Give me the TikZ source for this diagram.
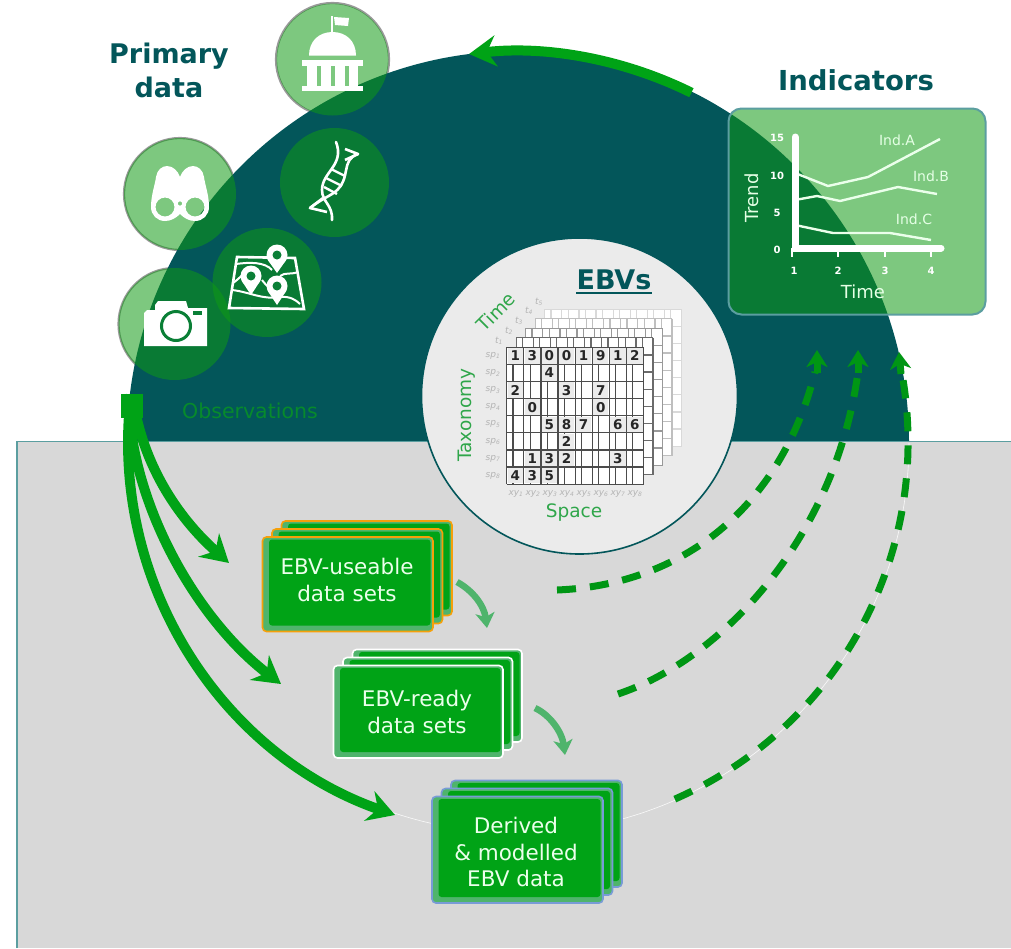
\documentclass[tikz,border=0pt]{standalone}
\usepackage{fontspec}
\setmainfont{DejaVu Sans}
\usetikzlibrary{arrows.meta}
\definecolor{tealdark}{HTML}{03565A}
\definecolor{greyback}{HTML}{D8D8D8}
\definecolor{maingreen}{HTML}{00A316}
\definecolor{lightgreen}{HTML}{4FB46C}
\definecolor{glass}{RGB}{15,154,20}
\definecolor{ringgreen}{HTML}{0A7F36}
\definecolor{axisgreen}{HTML}{2FA64A}
\definecolor{panelline}{HTML}{5B9EA0}
\definecolor{innerfill}{HTML}{EBEBEB}
\definecolor{labelgrey}{HTML}{B4B4B4}
\newcommand{\fs}[1]{\fontsize{#1}{#1}\selectfont}
\newcommand{\pinicon}[3]{%
  \fill[white] (#1,#2) circle (10.5pt);
  \fill[white] ({#1-9.5},{#2+4.5}) -- (#1,#3) -- ({#1+9.5},{#2+4.5}) -- cycle;
  \fill[ringgreen] (#1,#2) circle (4.5pt);}
\newcommand{\cardlayer}[5]{%
  \draw[draw=#5,fill=lightgreen,line width=1.6pt,rounded corners=4pt] (#1,#2) rectangle (#3,#4);
  \fill[maingreen,rounded corners=3pt] ({#1+6.5},{#2+2.5}) rectangle ({#3-2.5},{#4-6});}
\newcommand{\cardstack}[5]{%
  \cardlayer{#1+19}{#2-16}{#3+19}{#4-16}{#5}
  \cardlayer{#1+9.5}{#2-8}{#3+9.5}{#4-8}{#5}
  \cardlayer{#1}{#2}{#3}{#4}{#5}}
\newcommand{\gridlayer}[3]{%
  \begin{scope}[shift={(#1,#2)}]
    \fill[white] (506.7,347.3) rectangle (643.5,484.1);
    \draw[#3,line width=1.2pt] (506.7,347.3) grid[xstep=17.1,ystep=17.1] (643.5,484.1);
    \foreach \g in {0,...,8} {
      \draw[#3,line width=1.2pt] ({506.7+17.1*\g},347.3) -- ({506.7+17.1*\g},484.1);
      \draw[#3,line width=1.2pt] (506.7,{347.3+17.1*\g}) -- (643.5,{347.3+17.1*\g});}
  \end{scope}}
\tikzset{
  glassdisc/.style={fill=glass,fill opacity=.54},
  ringline/.style={draw=gray!80,line width=2.2pt},
  heading/.style={text=tealdark,font=\fs{27}\bfseries,inner sep=0pt},
  cardtext/.style={text=white!92!green,font=\fontsize{21.5}{26.5}\selectfont,align=center,inner sep=0pt},
  axislabel/.style={text=axisgreen,font=\fs{18.5},inner sep=0pt},
  chartnum/.style={text=white,font=\fs{10}\bfseries,inner sep=0pt},
  chartlabel/.style={text=white!90!green,font=\fs{14},inner sep=0pt},
  charttitle/.style={text=white!90!green,font=\fs{18},inner sep=0pt},
  chartline/.style={draw=white!92!green,line width=2.4pt},
  gridnum/.style={text=black!85,font=\fs{13.5}\bfseries,inner sep=0pt},
  smalllabel/.style={text=labelgrey,font=\fs{9}\itshape,inner sep=0pt},
  mainarrow/.style={draw=maingreen,line width=10pt,-{Stealth[length=27pt,width=31pt,inset=9pt]}},
  softarrow/.style={draw=lightgreen,line width=6.5pt,-{Stealth[length=15pt,width=19pt,inset=4pt]}},
  dashline/.style={draw=maingreen!92!black,line width=7pt,dash pattern=on 19pt off 14pt},
  dashhead/.style={draw=maingreen!92!black,line width=7pt,-{Stealth[length=17pt,width=21pt,inset=5pt]}},
}
\begin{document}
\begin{tikzpicture}[x=1pt,y=-1pt]
\useasboundingbox (0,0) rectangle (1011,948);
\fill[white] (0,0) rectangle (1011,948);
% rings seen only outside the dark half disc
\draw[ringline] (332.5,59.5) circle (56.5pt);
\draw[ringline] (180,194) circle (56pt);
\draw[ringline] (174.5,324) circle (56pt);
% dark half disc
\begin{scope}
  \clip (0,0) rectangle (1011,442);
  \fill[tealdark] (518,442) circle (391pt);
\end{scope}
% grey ground
\fill[greyback] (17,442) rectangle (1011,948);
\draw[panelline,line width=1.3pt] (17,948) -- (17,441.5) -- (1011,441.5);
\begin{scope}
  \clip (17,443) rectangle (1011,948);
  \draw[white!88!greyback,line width=.6pt] (518,442) circle (391pt);
\end{scope}
% source circles
\fill[glassdisc] (332.5,59.5) circle (56pt);
\fill[glassdisc] (334.5,182.5) circle (54.5pt);
\fill[glassdisc] (180,194) circle (56pt);
\fill[glassdisc] (267,282.5) circle (54.5pt);
\fill[glassdisc] (174.5,324) circle (56pt);
% institution icon
\draw[white,line width=2.4pt] (332,16) -- (332,33);
\fill[white] (334,17) -- (349,18) -- (348,26) -- (335,25) -- cycle;
\fill[white] (309,55.5) .. controls (309,41) and (319,32) .. (332.5,32) .. controls (346,32) and (356,41) .. (356,55.5) -- cycle;
\fill[white] (302,60) rectangle (363,66);
\foreach \a/\b in {307/317,321/331,335/344.5,349/358} \fill[white] (\a,66) rectangle (\b,86);
\fill[white] (302,86) rectangle (363,91);
% dna icon
\draw[white,line width=2.6pt,line cap=round] (336,142) .. controls (345,165) and (322,172) .. (322,190) .. controls (322,202) and (333,205) .. (332,220);
\draw[white,line width=2.6pt,line join=round] (345,149) -- (358,154) -- (345,160);
\draw[white,line width=2.6pt,line cap=round] (358,154) .. controls (340,160) and (352,178) .. (335,192) .. controls (328,197) and (320,200) .. (310,208);
\draw[white,line width=2.6pt,line join=round] (323,198) -- (310,208) -- (327,212);
\foreach \a/\b/\c/\d in {331/169/345/176,326/178/342/186,324/187/337/194} \draw[white,line width=2.4pt] (\a,\b) -- (\c,\d);
% binoculars icon
\fill[white,even odd rule] (151,207) .. controls (151,215) and (157,221) .. (165,221) .. controls (171,221) and (176,218) .. (180,214) .. controls (184,218) and (189,221) .. (195,221) .. controls (203,221) and (209,215) .. (209,207) .. controls (209,195) and (205,185) .. (204,177) .. controls (203,170) and (198,166) .. (193,166) .. controls (187,166) and (182,171) .. (180,177) .. controls (178,171) and (173,166) .. (167,166) .. controls (162,166) and (157,170) .. (156,177) .. controls (155,185) and (151,195) .. (151,207) -- cycle (165,207) circle (9.5pt) (195,207) circle (9.5pt) (180,203.5) circle (2.2pt);
% map icon
\draw[white,line width=2.6pt,line join=miter] (237,257) -- (295,258) -- (304,309) -- (229,308) -- cycle;
\draw[white,line width=2pt] (236,264) .. controls (250,262) and (265,262) .. (272,270);
\draw[white,line width=2pt] (233,283) .. controls (240,278) and (245,272) .. (250,268);
\draw[white,line width=2pt] (232,290) .. controls (250,292) and (262,300) .. (280,297) .. controls (290,296) and (296,300) .. (300,304);
\draw[white,line width=2pt] (298,272) .. controls (290,275) and (285,272) .. (280,276);
\draw[white,line width=2pt] (262,280) .. controls (268,288) and (272,290) .. (280,290);
\pinicon{277}{255}{273}
\pinicon{251}{276}{295}
\pinicon{277}{286}{305}
% camera icon
\fill[white] (144,313) -- (147,310) -- (155,310) -- (155,305) -- (158,301) -- (186,301) -- (188,308) -- (207,308) -- (207,346) -- (144,346) -- cycle;
\draw[ringgreen,line width=3pt] (176,326) circle (14.5pt);
\fill[ringgreen] (193,310.5) rectangle (202,315);
% headings and labels in the dark disc
\node[heading] (primary) at (169,56) {Primary};
\node[heading] (data) at (169,87) {data};
\node[heading,font=\fs{27.5}\bfseries] (indicators) at (856,80) {Indicators};
\node[text=ringgreen!70!maingreen,font=\fs{20.5},inner sep=0pt] (observations) at (250,411) {Observations};
% origin block and arrows
\node[fill=maingreen,minimum width=22pt,minimum height=24pt,inner sep=0pt] (origin) at (132,406) {};
\coordinate (tipA) at (229,563);
\coordinate (tipB) at (281,684);
\coordinate (tipC) at (395,815);
\coordinate (baseA) at (133,398);
\coordinate (baseB) at (128,398);
\coordinate (baseC) at (131,394.5);
\draw[mainarrow] (baseA) .. controls (142,462) and (176,516) .. (tipA);
\draw[mainarrow] (baseB) .. controls (132,510) and (200,622) .. (tipB);
\draw[mainarrow] (baseC) .. controls (108.3,578.8) and (218.7,753.4) .. (tipC);
\coordinate (loopA) at (691.4,92.7);
\coordinate (loopB) at (469.1,54);
\draw[mainarrow] (loopA) .. controls (622.6,58.6) and (545.3,45.4) .. (loopB);
% EBV disc
\fill[innerfill] (579.5,396) circle (158pt);
\draw[tealdark,line width=1.6pt] (579.5,396) circle (158pt);
\node[heading] (ebvs) at (614,280) {EBVs};
\draw[tealdark,line width=2pt] (ebvs.south west) ++(0,2.5) -- ([yshift=-2.5pt]ebvs.south east);
\gridlayer{38}{-38}{black!15}
\gridlayer{28.5}{-28.5}{black!25}
\gridlayer{19}{-19}{black!40}
\gridlayer{9.5}{-9.5}{black!58}
\gridlayer{0}{0}{black!70}
\foreach \c/\r/\v in {0/0/1,1/0/3,2/0/0,3/0/0,4/0/1,5/0/9,6/0/1,7/0/2,2/1/4,0/2/2,3/2/3,5/2/7,1/3/0,5/3/0,2/4/5,3/4/8,4/4/7,6/4/6,7/4/6,3/5/2,1/6/1,2/6/3,3/6/2,6/6/3,0/7/4,1/7/3,2/7/5} {
  \fill[innerfill] ({507.5+17.1*\c},{348.1+17.1*\r}) rectangle ({522.9+17.1*\c},{363.6+17.1*\r});
  \node[gridnum] (n\c-\r) at ({515.2+17.1*\c},{355.9+17.1*\r}) {\v};
}
\foreach \i in {1,...,8} {
  \node[smalllabel] (sp\i) at (493,{356+17.1*(\i-1)}) {sp\textsubscript{\i}};
  \node[smalllabel] (xy\i) at ({516+17*(\i-1)},494) {xy\textsubscript{\i}};
}
\foreach \i/\x/\y in {1/499/341,2/509/331,3/519/321,4/529/311,5/539/302} \node[smalllabel] (t\i) at (\x,\y) {t\textsubscript{\i}};
\node[axislabel,rotate=45] (time) at (496,312) {Time};
\node[axislabel,rotate=90] (taxonomy) at (467,415) {Taxonomy};
\node[axislabel] (space) at (574,513) {Space};
% indicators panel
\draw[glassdisc,draw=panelline,draw opacity=1,line width=2pt,rounded corners=13pt] (728.5,108.5) rectangle (985.5,314.5);
\draw[chartline] (795,173) -- (828,186) -- (868,177) -- (940,139);
\draw[chartline] (795,200) -- (817,196) -- (840,201) -- (898,187) -- (937,194);
\draw[chartline] (795,225) -- (833,233) -- (890,233) -- (931,240);
\foreach \x in {792,838,885,931} \draw[white,line width=1.6pt] (\x,248) -- (\x,257);
\draw[white,line width=7pt,line cap=round] (795,137) -- (795,248) -- (941,248);
\foreach \v/\y in {15/138,10/176,5/213,0/250} \node[chartnum] (y\v) at (777,\y) {\v};
\foreach \v/\x in {1/794,2/838,3/885,4/931} \node[chartnum] (x\v) at (\x,271) {\v};
\node[chartlabel] (inda) at (897,140) {Ind.A};
\node[chartlabel] (indb) at (931,176) {Ind.B};
\node[chartlabel] (indc) at (914,219) {Ind.C};
\node[charttitle,rotate=90] (trend) at (752,198) {Trend};
\node[charttitle] (timeaxis) at (863,292) {Time};
% data cards
\cardstack{262.5}{537}{433}{631.5}{orange!70!yellow!85!brown}
\cardstack{333.5}{665.5}{503}{758}{white}
\cardstack{432}{796.5}{603}{903}{cyan!45!blue!55!white}
\node[cardtext] (cardA) at (347,580) {EBV-useable\\data sets};
\node[cardtext] (cardB) at (417,712) {EBV-ready\\data sets};
\node[cardtext] (cardC) at (516,852) {Derived\\\& modelled\\EBV data};
\coordinate (softA1) at (457,582);
\coordinate (softA2) at (487,628);
\coordinate (softB1) at (535,708);
\coordinate (softB2) at (565,755);
\draw[softarrow] (softA1) .. controls (472,590) and (484,605) .. (softA2);
\draw[softarrow] (softB1) .. controls (550,715) and (562,732) .. (softB2);
% dashed feedback arcs
\coordinate (dashA1) at (557,590);
\coordinate (dashA2) at (815,372);
\coordinate (dashB1) at (618,694);
\coordinate (dashB2) at (858,372);
\coordinate (dashC1) at (674.8,799.1);
\coordinate (dashC2) at (903.1,380.3);
\draw[dashline] (dashA1) .. controls (680,585) and (780,510) .. (dashA2);
\draw[dashline] (dashB1) .. controls (720,660) and (835,540) .. (dashB2);
\draw[dashline] (dashC1) .. controls (837.4,727.7) and (931.2,555.7) .. (dashC2);
\coordinate (headA1) at (817,373);
\coordinate (headA2) at (817,350);
\coordinate (headB1) at (858,373);
\coordinate (headB2) at (858,350);
\coordinate (headC1) at (901,374);
\coordinate (headC2) at (899,352);
\draw[dashhead] (headA1) -- (headA2);
\draw[dashhead] (headB1) -- (headB2);
\draw[dashhead] (headC1) -- (headC2);
\end{tikzpicture}
\end{document}
